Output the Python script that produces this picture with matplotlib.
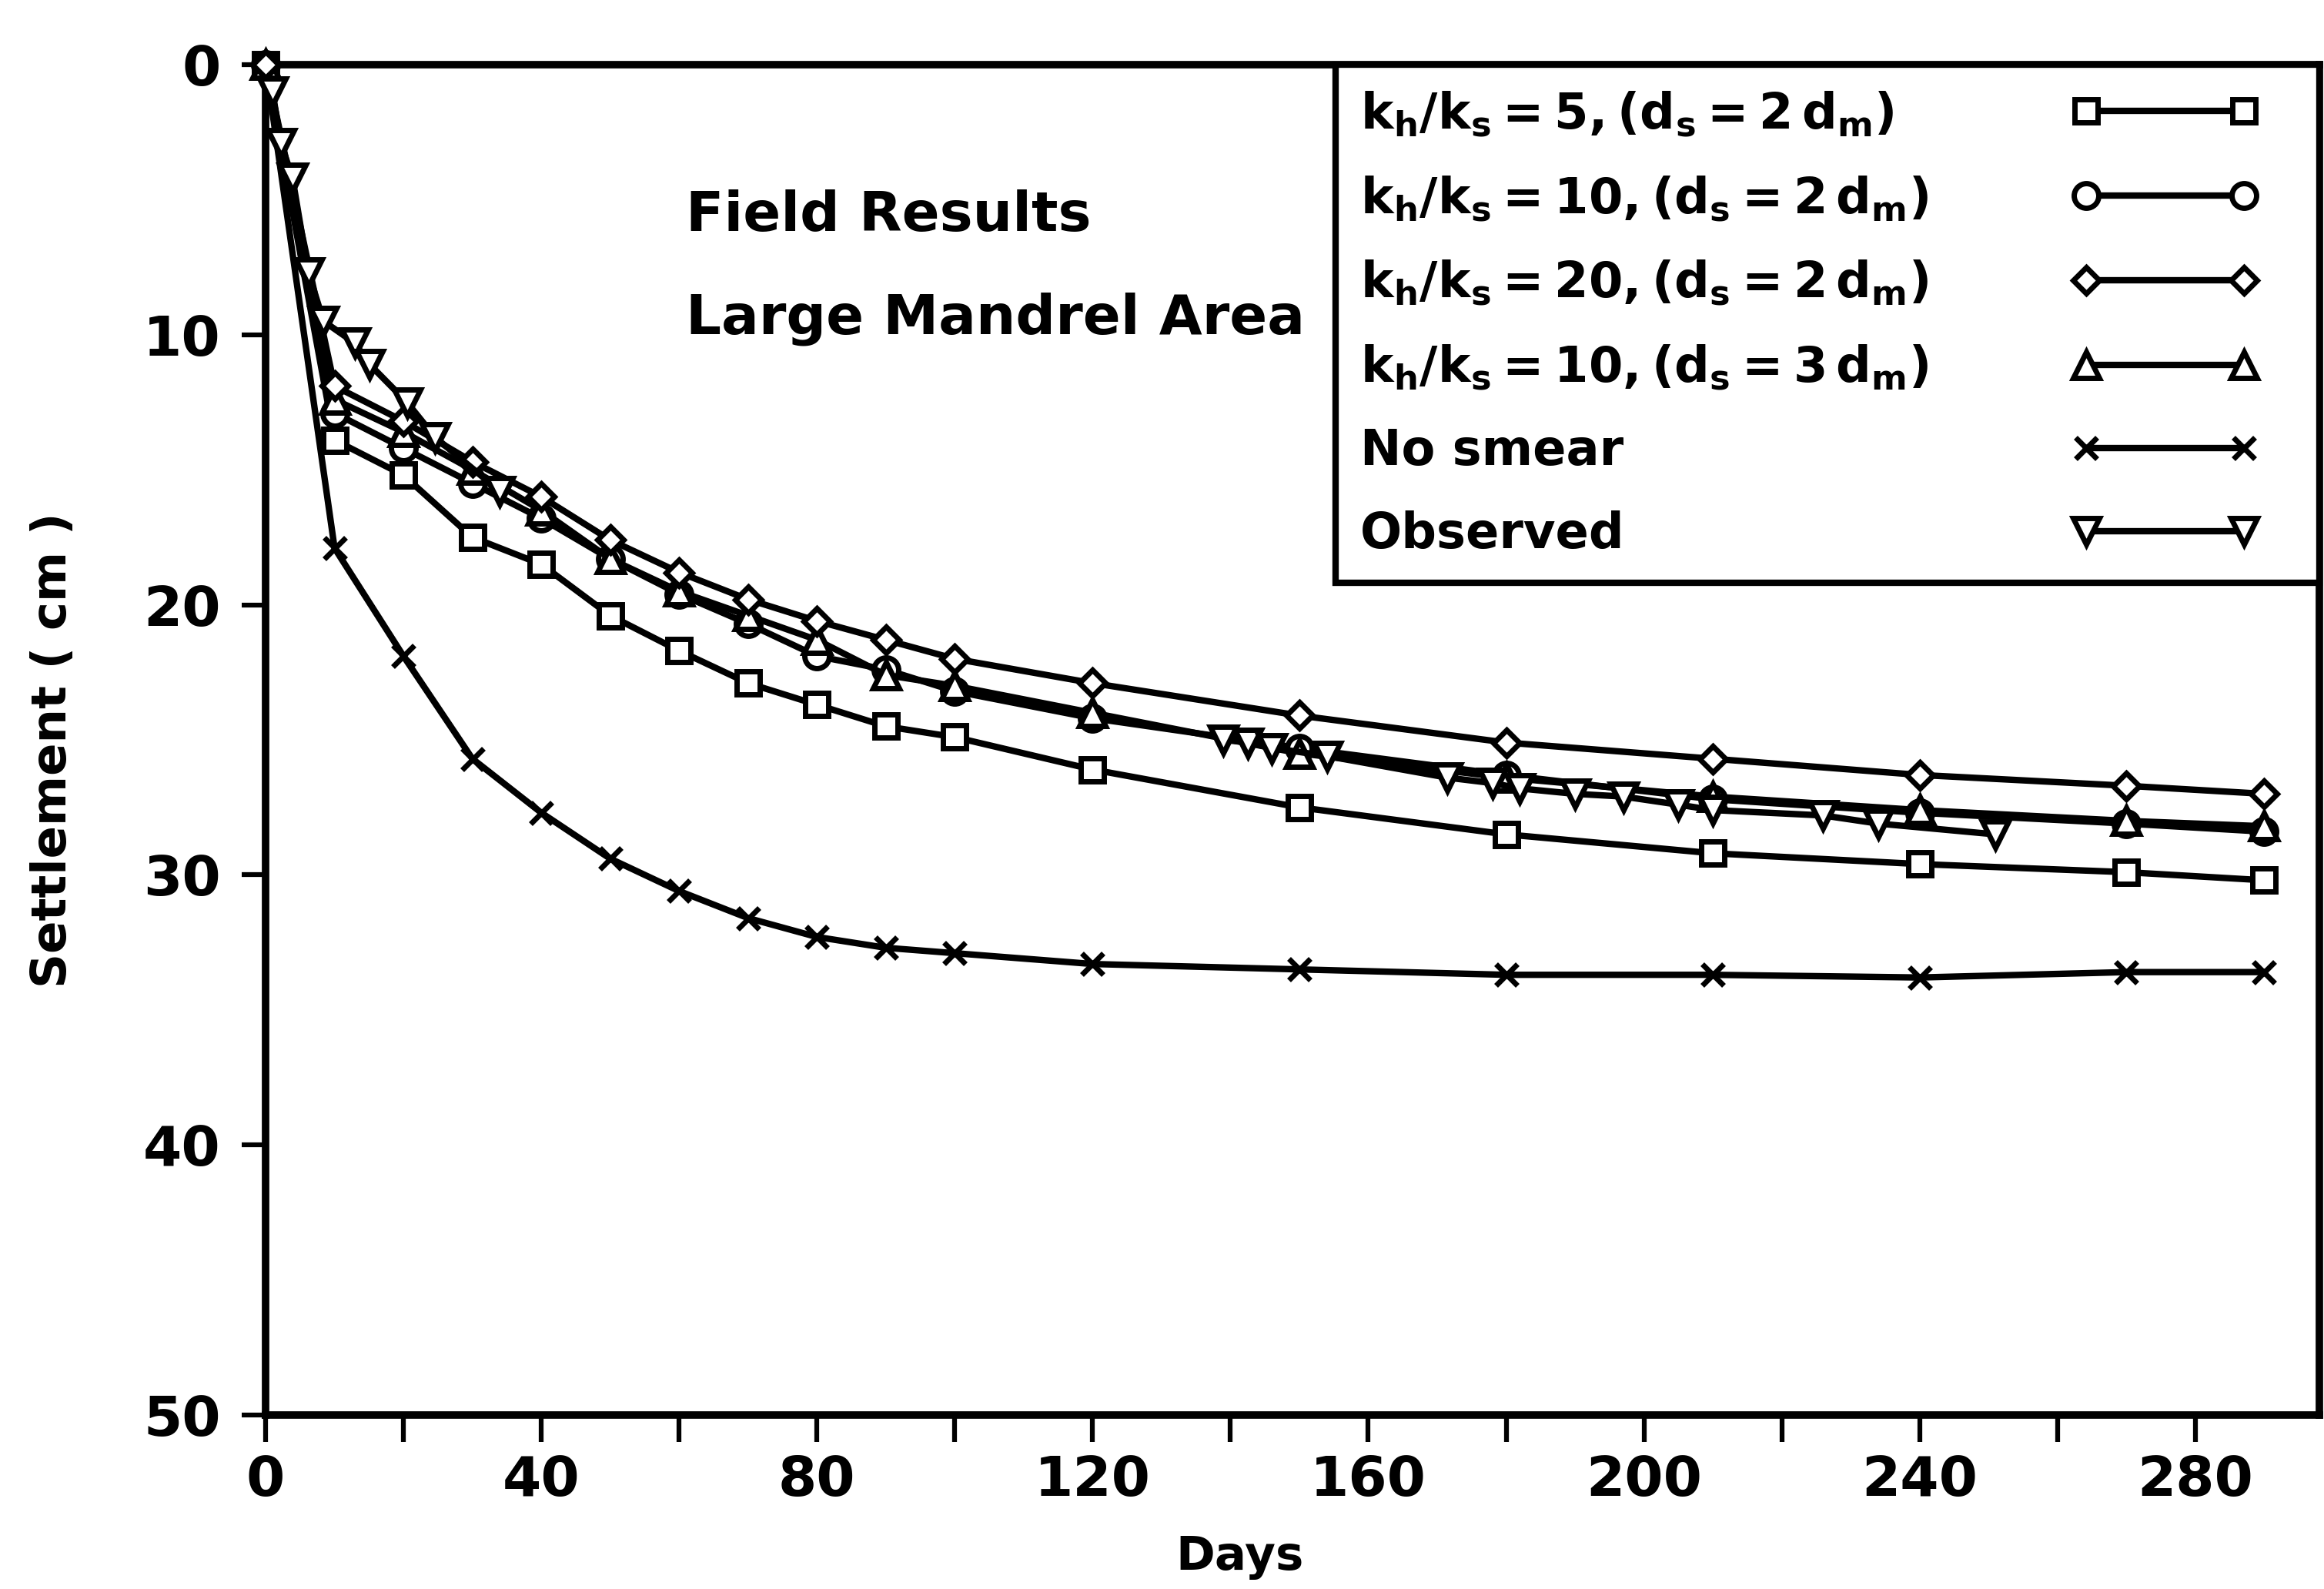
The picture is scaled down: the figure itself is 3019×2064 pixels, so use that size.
import numpy as np
import matplotlib
matplotlib.use("Agg")
import matplotlib.pyplot as plt
from matplotlib.ticker import MultipleLocator

# ---------------- data ----------------
days = [0, 10, 20, 30, 40, 50, 60, 70, 80, 90, 100, 120, 150, 180, 210, 240, 270, 290]
s_kh5_ds2 = [0, 13.9, 15.2, 17.5, 18.5, 20.4, 21.7, 22.9, 23.7, 24.5, 24.9, 26.1, 27.5, 28.5, 29.2, 29.6, 29.9, 30.2]
s_kh10_ds2 = [0, 12.9, 14.2, 15.5, 16.8, 18.3, 19.6, 20.7, 21.9, 22.4, 23.2, 24.2, 25.3, 26.3, 27.2, 27.7, 28.1, 28.4]
s_kh20_ds2 = [0, 11.9, 13.2, 14.7, 16.0, 17.6, 18.8, 19.8, 20.6, 21.3, 22.0, 22.9, 24.1, 25.1, 25.7, 26.3, 26.7, 27.0]
s_kh10_ds3 = [0, 12.4, 13.6, 15.0, 16.5, 18.3, 19.5, 20.4, 21.3, 22.6, 23.0, 24.0, 25.5, 26.4, 27.1, 27.6, 28.0, 28.2]
s_no_smear = [0, 17.9, 21.9, 25.7, 27.7, 29.4, 30.6, 31.6, 32.3, 32.7, 32.9, 33.3, 33.5, 33.7, 33.7, 33.8, 33.6, 33.6]

obs_days = [1, 2.2, 3.9, 6.2, 8.4, 12.9, 15.1, 20.5, 24.6, 34,
            139, 142.5, 146, 154, 171.5, 178, 182, 190, 197, 205, 210, 226, 234, 251]
obs_settle = [1.0, 2.9, 4.2, 7.7, 9.5, 10.3, 11.1, 12.5, 13.8, 15.8,
              25.0, 25.1, 25.3, 25.6, 26.4, 26.6, 26.8, 27.0, 27.1, 27.4, 27.6, 27.8, 28.1, 28.5]

labels = [r"$k_h/k_s = 5, (d_s = 2\,d_m)$",
          r"$k_h/k_s = 10, (d_s = 2\,d_m)$",
          r"$k_h/k_s = 20, (d_s = 2\,d_m)$",
          r"$k_h/k_s = 10, (d_s = 3\,d_m)$",
          "No smear",
          "Observed"]
x_ticks = [0, 40, 80, 120, 160, 200, 240, 280]
y_ticks = [0, 10, 20, 30, 40, 50]

# ---------------- style ----------------
plt.rcParams["font.family"] = ["DejaVu Sans"]
plt.rcParams["font.weight"] = "bold"
plt.rcParams["mathtext.fontset"] = "dejavusans"
plt.rcParams["mathtext.default"] = "bf"

DPI = 100
fig = plt.figure(figsize=(30.19, 20.64), dpi=DPI)
ax = fig.add_axes([0.1143, 0.1095, 0.8837, 0.8498])

LW = 6.0
common = dict(color="black", lw=LW, mfc="white", mec="black", mew=5.0, clip_on=False)

h_ns, = ax.plot(days, s_no_smear, marker="x", ms=20, zorder=3, **common)
h_sq, = ax.plot(days, s_kh5_ds2, marker="s", ms=22, zorder=4, **common)
h_ci, = ax.plot(days, s_kh10_ds2, marker="o", ms=23, zorder=5, **common)
h_tr, = ax.plot(days, s_kh10_ds3, marker="^", ms=24, zorder=6, **common)
h_di, = ax.plot(days, s_kh20_ds2, marker="D", ms=17, zorder=7, **common)

# observed: connect points only within continuous runs of measurements
od = np.array(obs_days)
os_ = np.array(obs_settle)
breaks = np.where(np.diff(od) > 50)[0] + 1
h_ob = None
for seg_d, seg_s in zip(np.split(od, breaks), np.split(os_, breaks)):
    h, = ax.plot(seg_d, seg_s, marker="v", ms=24, zorder=8, **common)
    h_ob = h if h_ob is None else h_ob

ax.set_xlim(0, 298)
ax.set_ylim(50, 0)
ax.set_xticks(x_ticks)
ax.xaxis.set_minor_locator(MultipleLocator(20))
ax.set_yticks(y_ticks)
ax.tick_params(axis="x", which="both", direction="out", length=25, width=4.5,
               labelsize=52, pad=12, top=False)
ax.tick_params(axis="y", which="both", direction="out", length=22, width=4.5,
               labelsize=52, pad=20, right=False)
for sp in ax.spines.values():
    sp.set_linewidth(7)

ax.text(0.2045, 0.877, "Field Results", transform=ax.transAxes,
        fontsize=52, fontweight="bold", va="baseline", ha="left")
ax.text(0.2045, 0.801, "Large Mandrel Area", transform=ax.transAxes,
        fontsize=52, fontweight="bold", va="baseline", ha="left")

fig.text(69 / 3019, 1 - 974 / 2064, "Settlement ( cm )", rotation=90,
         ha="center", va="center", fontsize=45, fontweight="bold")
fig.text(1611 / 3019, 1 - 2023 / 2064, "Days", ha="center", va="center",
         fontsize=44, fontweight="bold")

# ---------------- legend ----------------
LEG_FS = 46
EM = LEG_FS * DPI / 72.0
handles = [h_sq, h_ci, h_di, h_tr, h_ns, h_ob]


def make_legend(htp):
    lg = ax.legend(handles, labels, loc="upper right", bbox_to_anchor=(1, 1),
                   borderaxespad=0, markerfirst=False, numpoints=2,
                   fontsize=LEG_FS, handlelength=3.8, handletextpad=htp,
                   labelspacing=0.72, borderpad=0.5, fancybox=False,
                   framealpha=1, edgecolor="black")
    lg.get_frame().set_linewidth(6)
    lg.set_zorder(20)
    return lg


leg = make_legend(1.6)
fig.canvas.draw()
w1 = leg.get_window_extent().width
target_w = 0.479 * ax.get_window_extent().width
leg.remove()
leg = make_legend(1.6 + (target_w - w1) / EM)
fig.canvas.draw()

# left-align the label texts (rows are right-aligned when markerfirst=False)
texts = leg.get_texts()
widths = [t.get_window_extent().width for t in texts]
wmax = max(widths)
for t, w in zip(texts, widths):
    t.set_position((-(wmax - w), 0))

# move the sample lines a little inwards from the right border
shift_pts = 47 * 72.0 / DPI
for lh in leg.legend_handles:
    lh.set_xdata(np.asarray(lh.get_xdata(), dtype=float) - shift_pts)

fig.savefig("out.png", dpi=DPI, facecolor="white")
